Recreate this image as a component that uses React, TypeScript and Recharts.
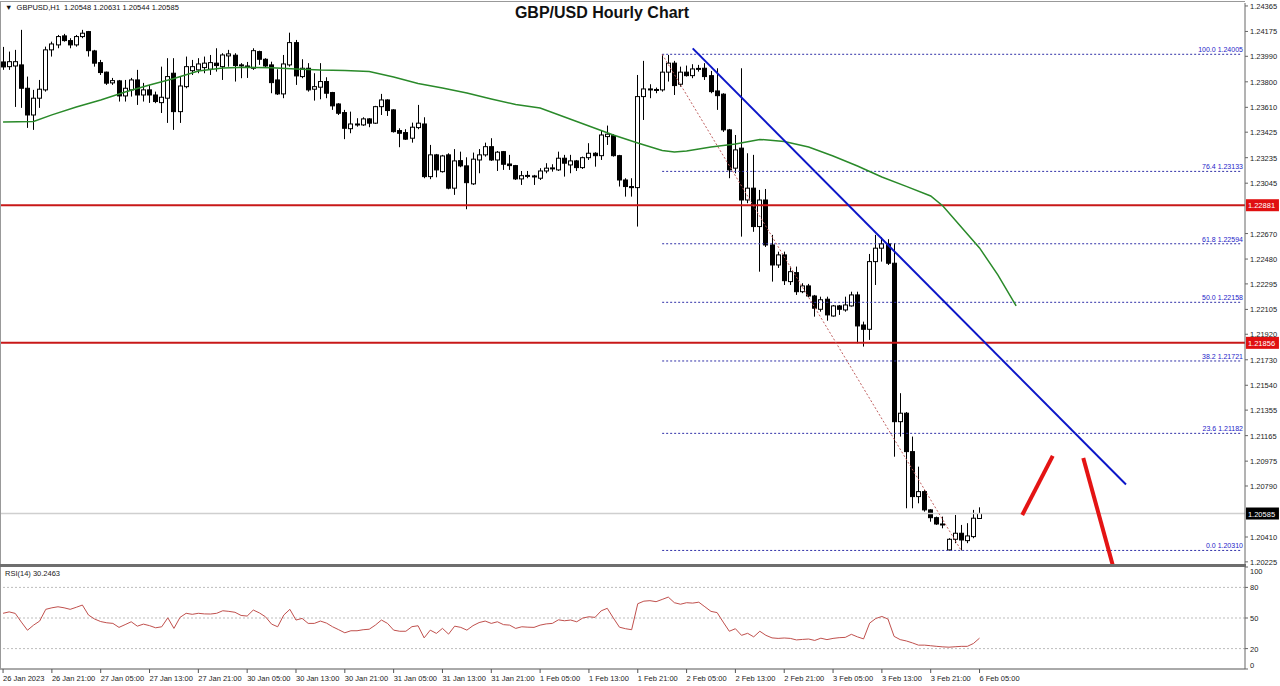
import React from 'react'
import { ComposedChart, Bar, Line, XAxis, YAxis, ReferenceLine, ReferenceDot } from 'recharts'

const W = 1280
const AXIS_W = 35
const SLOTS = 204 // hourly bars plus the empty space on the right
const FONT = '"Liberation Sans", Arial, sans-serif'

// GBPUSD H1, open / high / low / close, 26 Jan 13:00 .. 6 Feb 05:00
const ohlc = [
  [1.23948, 1.2406, 1.23889, 1.23911],
  [1.23913, 1.24025, 1.23889, 1.2395],
  [1.23918, 1.24038, 1.23613, 1.2395],
  [1.23926, 1.24187, 1.23606, 1.23752],
  [1.23752, 1.23839, 1.23457, 1.23553],
  [1.23553, 1.2374, 1.23442, 1.23678],
  [1.23678, 1.23814, 1.23606, 1.23745],
  [1.2374, 1.24062, 1.23727, 1.24038],
  [1.24038, 1.24099, 1.23988, 1.24082],
  [1.24075, 1.24149, 1.2405, 1.24137],
  [1.24142, 1.24157, 1.24099, 1.24107],
  [1.24107, 1.24125, 1.2405, 1.24075],
  [1.24075, 1.24149, 1.24062, 1.24137],
  [1.24137, 1.24187, 1.24125, 1.24162],
  [1.24174, 1.24179, 1.23988, 1.24032],
  [1.2403, 1.24038, 1.23913, 1.23939],
  [1.23943, 1.23963, 1.23851, 1.23869],
  [1.23872, 1.23876, 1.23777, 1.2379],
  [1.23792, 1.23829, 1.23777, 1.23809],
  [1.23807, 1.23814, 1.23653, 1.23695],
  [1.23695, 1.23814, 1.23653, 1.23752],
  [1.2374, 1.23829, 1.2369, 1.23814],
  [1.23814, 1.23889, 1.23628, 1.23702],
  [1.23702, 1.23792, 1.23653, 1.2374],
  [1.2374, 1.23777, 1.23643, 1.23702],
  [1.23702, 1.23727, 1.23641, 1.23653],
  [1.23645, 1.23913, 1.23568, 1.23685],
  [1.23678, 1.23976, 1.23494, 1.23839],
  [1.23864, 1.23976, 1.23442, 1.23578],
  [1.23578, 1.23839, 1.23494, 1.23769],
  [1.23764, 1.23988, 1.23752, 1.23913],
  [1.23883, 1.23963, 1.23851, 1.23913],
  [1.23889, 1.23976, 1.23864, 1.23933],
  [1.23906, 1.23988, 1.23864, 1.23939],
  [1.23894, 1.24, 1.23851, 1.23943],
  [1.23939, 1.2405, 1.23876, 1.23921],
  [1.23913, 1.24013, 1.23814, 1.24],
  [1.23993, 1.24038, 1.23913, 1.24008],
  [1.23998, 1.24013, 1.23802, 1.23921],
  [1.23926, 1.23939, 1.23827, 1.23922],
  [1.23911, 1.23948, 1.23829, 1.23918],
  [1.23901, 1.2405, 1.23889, 1.24032],
  [1.24025, 1.24032, 1.23926, 1.23968],
  [1.23968, 1.23976, 1.23909, 1.23918],
  [1.23926, 1.2395, 1.23715, 1.23794],
  [1.23814, 1.23894, 1.23702, 1.2371],
  [1.2371, 1.24, 1.23678, 1.23933],
  [1.23926, 1.24166, 1.23913, 1.24092],
  [1.24092, 1.24112, 1.23777, 1.23844],
  [1.23839, 1.23968, 1.23827, 1.23901],
  [1.23901, 1.23939, 1.23727, 1.2374],
  [1.23745, 1.23864, 1.2366, 1.23764],
  [1.2376, 1.23939, 1.2367, 1.23802],
  [1.23802, 1.23834, 1.23678, 1.23715],
  [1.2372, 1.23725, 1.23591, 1.23621],
  [1.23635, 1.23641, 1.23553, 1.23566],
  [1.23571, 1.23591, 1.23373, 1.23454],
  [1.23451, 1.23578, 1.23417, 1.23486],
  [1.23486, 1.23529, 1.23466, 1.23483],
  [1.23479, 1.23536, 1.23472, 1.23524],
  [1.23524, 1.23529, 1.23462, 1.23492],
  [1.23492, 1.23621, 1.23486, 1.23615],
  [1.23615, 1.2371, 1.23553, 1.23665],
  [1.23665, 1.2367, 1.23546, 1.23586],
  [1.23591, 1.23596, 1.23422, 1.23429],
  [1.23437, 1.23454, 1.23313, 1.23417],
  [1.23422, 1.23447, 1.23367, 1.23373],
  [1.2338, 1.23496, 1.23347, 1.23462],
  [1.23459, 1.23628, 1.23447, 1.23492],
  [1.23486, 1.23536, 1.23082, 1.23094],
  [1.23094, 1.2333, 1.23075, 1.23256],
  [1.23256, 1.23263, 1.23089, 1.23144],
  [1.23131, 1.23256, 1.23124, 1.23248],
  [1.23256, 1.23268, 1.23, 1.23008],
  [1.23008, 1.23299, 1.22958, 1.23211],
  [1.23213, 1.2328, 1.23164, 1.23174],
  [1.23174, 1.23238, 1.22851, 1.23049],
  [1.2304, 1.23273, 1.23032, 1.23224],
  [1.23218, 1.23299, 1.23119, 1.23256],
  [1.23256, 1.23347, 1.23243, 1.23317],
  [1.23317, 1.2338, 1.23211, 1.23218],
  [1.23218, 1.23285, 1.23136, 1.23276],
  [1.2328, 1.23285, 1.23144, 1.23186],
  [1.23188, 1.23256, 1.23144, 1.23176],
  [1.23176, 1.23181, 1.23069, 1.23077],
  [1.23077, 1.23136, 1.23032, 1.23101],
  [1.23101, 1.23136, 1.23082, 1.23103],
  [1.23092, 1.23107, 1.23032, 1.23099],
  [1.23082, 1.23157, 1.23069, 1.23136],
  [1.23136, 1.23194, 1.23119, 1.23157],
  [1.23157, 1.23186, 1.23131, 1.23159],
  [1.23144, 1.2328, 1.23136, 1.23231],
  [1.23231, 1.23256, 1.23094, 1.23194],
  [1.23181, 1.23256, 1.23119, 1.23211],
  [1.23211, 1.23218, 1.23136, 1.23161],
  [1.23161, 1.23243, 1.23151, 1.23235],
  [1.23235, 1.23343, 1.23218, 1.23268],
  [1.23268, 1.23276, 1.23168, 1.2325],
  [1.2325, 1.23434, 1.23218, 1.23404],
  [1.23392, 1.23474, 1.2333, 1.2341],
  [1.23399, 1.2341, 1.23243, 1.2325],
  [1.2325, 1.23256, 1.2302, 1.23069],
  [1.23069, 1.23082, 1.22945, 1.2302],
  [1.2302, 1.23082, 1.22945, 1.23012],
  [1.23012, 1.23851, 1.22722, 1.2369],
  [1.2369, 1.23956, 1.23516, 1.23747],
  [1.23747, 1.23782, 1.23678, 1.23743],
  [1.23743, 1.23757, 1.23715, 1.2374],
  [1.2374, 1.24005, 1.23727, 1.23872],
  [1.23872, 1.24, 1.23802, 1.23939],
  [1.23939, 1.23956, 1.23702, 1.23772],
  [1.23782, 1.23913, 1.23764, 1.23872],
  [1.23872, 1.23921, 1.23839, 1.23846],
  [1.23846, 1.23931, 1.23827, 1.23896],
  [1.23896, 1.23926, 1.23876, 1.239],
  [1.23901, 1.23939, 1.23814, 1.23839],
  [1.23846, 1.23881, 1.23715, 1.23727],
  [1.23732, 1.23901, 1.23591, 1.23697],
  [1.23708, 1.23715, 1.23427, 1.23442],
  [1.23442, 1.23449, 1.23082, 1.23144],
  [1.23157, 1.23404, 1.23119, 1.23293],
  [1.23306, 1.23901, 1.22647, 1.2292],
  [1.2292, 1.23268, 1.22896, 1.23008],
  [1.23008, 1.23256, 1.22683, 1.22722],
  [1.22722, 1.22995, 1.22386, 1.2292],
  [1.2292, 1.23002, 1.2257, 1.22585],
  [1.22585, 1.2266, 1.22312, 1.22436],
  [1.22436, 1.22535, 1.22414, 1.22511],
  [1.22511, 1.22535, 1.22287, 1.22319],
  [1.22312, 1.22424, 1.22287, 1.22386],
  [1.22379, 1.22424, 1.22213, 1.22237],
  [1.22237, 1.223, 1.22226, 1.2228],
  [1.2228, 1.22295, 1.22196, 1.22205],
  [1.22205, 1.22213, 1.22051, 1.22114],
  [1.22106, 1.222, 1.22088, 1.22177],
  [1.22181, 1.222, 1.22021, 1.22064],
  [1.22056, 1.22138, 1.22051, 1.22131],
  [1.22131, 1.22138, 1.22064, 1.22106],
  [1.22101, 1.222, 1.22088, 1.22138],
  [1.22131, 1.22237, 1.22126, 1.22213],
  [1.22213, 1.22237, 1.21853, 1.21982],
  [1.21989, 1.22014, 1.21828, 1.21957],
  [1.21957, 1.22518, 1.21878, 1.22461],
  [1.22461, 1.2266, 1.22287, 1.22561],
  [1.22561, 1.22643, 1.22461, 1.22593],
  [1.22593, 1.22628, 1.22436, 1.22449],
  [1.22449, 1.22598, 1.21008, 1.21269],
  [1.21269, 1.21481, 1.21158, 1.21332],
  [1.21332, 1.21341, 1.20624, 1.21046],
  [1.21046, 1.21158, 1.20624, 1.20711],
  [1.20711, 1.20934, 1.20661, 1.20748],
  [1.20748, 1.20761, 1.20599, 1.20612],
  [1.20612, 1.20617, 1.20524, 1.20554],
  [1.20554, 1.20562, 1.205, 1.20507],
  [1.20507, 1.20562, 1.20475, 1.205],
  [1.20314, 1.20401, 1.2031, 1.20393],
  [1.20393, 1.20574, 1.20364, 1.20438],
  [1.20438, 1.205, 1.2031, 1.20388],
  [1.20383, 1.20513, 1.20364, 1.20418],
  [1.20413, 1.20612, 1.20401, 1.2055],
  [1.20548, 1.20631, 1.20544, 1.20585],
]

// shifted moving average, read at [bar, price]
const maPoints = [
  [0, 1.23501], [5, 1.23505], [8, 1.23554], [12, 1.23613], [16, 1.23665], [20, 1.23724],
  [24, 1.23777], [28, 1.23825], [32, 1.23881], [36, 1.23903], [40, 1.23908], [44, 1.23905],
  [48, 1.23896], [52, 1.23888], [56, 1.23885], [60, 1.23877], [64, 1.23836], [68, 1.23788],
  [72, 1.23754], [76, 1.23717], [80, 1.23672], [84, 1.23631], [88, 1.23605], [92, 1.23538],
  [96, 1.23471], [100, 1.23404], [104, 1.23345], [108, 1.23289], [110, 1.23278], [112, 1.23285],
  [116, 1.23315], [120, 1.23337], [124, 1.23371], [128, 1.23356], [132, 1.23315], [136, 1.23248],
  [140, 1.23173], [144, 1.23091], [148, 1.23021], [152, 1.2295], [154, 1.22875], [156, 1.22771],
  [160, 1.22563], [163, 1.22362], [166, 1.22131],
]

const rsi14 = [
  54.6, 56, 54.5, 46, 38, 43, 47, 58.5, 60, 61,
  60, 58.5, 60.5, 62.7, 52.9, 49, 46.5, 45.3, 44.7, 40.8,
  43.5, 46.3, 42, 44, 42.5, 40.4, 41.4, 50.2, 39.8, 50.6,
  54.6, 53.6, 54.6, 54, 53.9, 54.6, 57.1, 56.5, 55.6, 52.5,
  51.9, 57.8, 55, 51.2, 44, 41.4, 52.9, 58.5, 48, 49.6,
  44.7, 44.7, 47, 45, 41.4, 38.5, 35.5, 37.5, 37.5, 38.5,
  39, 43, 48, 44.7, 38.1, 37, 37, 41.5, 42.4, 30.5,
  38.1, 34.9, 39.8, 34.2, 42, 40.8, 38.1, 42.5, 45.5, 47,
  44.7, 46.3, 43.5, 43, 39.8, 41.4, 41, 40.8, 43, 44.2,
  44.7, 48.2, 47.3, 48, 46.3, 50, 51.2, 50.6, 57, 59.5,
  50, 41, 39.5, 38.5, 64, 66.5, 67, 66, 68.2, 70.5,
  65, 63.5, 65, 64.6, 65.5, 61, 56.5, 55.3, 46, 37,
  39.5, 33, 35, 31.5, 37, 33, 30.5, 30, 30.4, 30,
  28.5, 29, 29.4, 28, 30.2, 28.8, 30, 30.7, 31, 34,
  31.5, 29.5, 45, 49.5, 51.5, 49, 32, 28.8, 27.5, 25.6,
  23.4, 23.4, 22.8, 22.2, 21.7, 21.4, 21.8, 22.2, 22.2, 25,
  30.25,
]

const timeLabels = [
  '26 Jan 2023', '26 Jan 21:00', '27 Jan 05:00', '27 Jan 13:00', '27 Jan 21:00', '30 Jan 05:00',
  '30 Jan 13:00', '30 Jan 21:00', '31 Jan 05:00', '31 Jan 13:00', '31 Jan 21:00', '1 Feb 05:00',
  '1 Feb 13:00', '1 Feb 21:00', '2 Feb 05:00', '2 Feb 13:00', '2 Feb 21:00', '3 Feb 05:00',
  '3 Feb 13:00', '3 Feb 21:00', '6 Feb 05:00',
]
const timeTicks = timeLabels.map((_, k) => k * 8)

const priceTicks = [
  1.24365, 1.24175, 1.2399, 1.238, 1.2361, 1.23425, 1.23235, 1.23045, 1.2267, 1.2248, 1.22295,
  1.22105, 1.2192, 1.2173, 1.2154, 1.21355, 1.21165, 1.20975, 1.2079, 1.2041, 1.20225,
]
const priceDomain = [1.20209, 1.24387]

const fibLevels = [
  [100.0, 1.24005], [76.4, 1.23133], [61.8, 1.22594], [50.0, 1.22158],
  [38.2, 1.21721], [23.6, 1.21182], [0.0, 1.2031],
]
const fibStart = 108
const fibSwing = [[108, 1.24005], [157, 1.2031]]
const keyLevels = [1.22881, 1.21856]
const lastPrice = 1.20585
const trendLine = [[113, 1.24049], [184, 1.20801]]
const arrowUp = [[167, 1.20574], [172, 1.21014]]
const arrowDown = [[177, 1.20999], [182, 1.20172]]
const rsiLevels = [80, 50, 20]

const rows = Array.from({ length: SLOTS }, (_, i) => {
  const row: any = { i }
  const c = ohlc[i]
  if (c) {
    row.o = c[0]
    row.h = c[1]
    row.l = c[2]
    row.c = c[3]
    row.range = [c[2], c[1]]
    row.rsi = rsi14[i]
  }
  return row
})
maPoints.forEach(([i, v]) => {
  rows[i].ma = v
})

const seg = (p: number[][]) => p.map(([x, y]) => ({ x, y }))

function Candle(props: any) {
  const { x, y, width, height, payload } = props
  if (!payload || payload.o == null) return null
  const top = Math.min(y, y + height)
  const bot = Math.max(y, y + height)
  const span = payload.h - payload.l || 1
  const toY = (p: number) => top + ((payload.h - p) / span) * (bot - top)
  const cx = Math.floor(x + width / 2) + 0.5
  const yo = toY(payload.o)
  const yc = toY(payload.c)
  const bull = payload.c >= payload.o
  const bTop = Math.min(yo, yc)
  const bH = Math.max(Math.abs(yc - yo), 1)
  return (
    <g>
      <line x1={cx} x2={cx} y1={top} y2={bot} stroke="#000" strokeWidth={1} />
      <rect x={cx - 2} y={bTop} width={4} height={bH} fill={bull ? '#fff' : '#000'} stroke="#000" strokeWidth={1} />
    </g>
  )
}

const PriceTick = (props: any) => {
  const { x, y, payload } = props
  return (
    <text x={x} y={y} dy={3} fontSize={7.5} fontFamily={FONT} fill="#222" textAnchor="start">
      {Number(payload.value).toFixed(5)}
    </text>
  )
}

const RsiTick = (props: any) => {
  const { x, y, payload } = props
  const shift = payload.value === 100 ? 4 : payload.value === 0 ? -4 : 0
  return (
    <text x={x} y={y + shift} dy={3} fontSize={7.5} fontFamily={FONT} fill="#222" textAnchor="start">
      {payload.value}
    </text>
  )
}

const TimeTick = (props: any) => {
  const { x, y, payload } = props
  return (
    <text x={x} y={y} dy={6} fontSize={7.5} fontFamily={FONT} fill="#222" textAnchor="start">
      {timeLabels[payload.value / 8]}
    </text>
  )
}

const fibLabel = (text: string) => (p: any) => (
  <text x={p.cx + 1} y={p.cy - 2} fontSize={7} fontFamily={FONT} fill="#2424c8" textAnchor="end">
    {text}
  </text>
)

const priceBox = (value: number, bg: string) => (p: any) => (
  <g>
    <rect x={p.cx + 4} y={p.cy - 6} width={33} height={12} fill={bg} />
    <text x={p.cx + 6} y={p.cy + 3} fontSize={7.5} fontFamily={FONT} fill="#fff">
      {value.toFixed(5)}
    </text>
  </g>
)

export default function App() {
  return (
    <div style={{ position: 'relative', width: W, height: 686, overflow: 'hidden', background: '#fff', fontFamily: FONT }}>
      <style>{'body{margin:0}'}</style>

      <div style={{ position: 'absolute', left: 0, top: 0 }}>
        <ComposedChart width={W} height={566} data={rows} margin={{ top: 3, right: 0, bottom: 2, left: 0 }}>
          <XAxis dataKey="i" type="category" scale="band" hide />
          <YAxis
            orientation="right"
            type="number"
            width={AXIS_W}
            domain={priceDomain}
            allowDataOverflow
            ticks={priceTicks}
            interval={0}
            tick={<PriceTick />}
            tickSize={3}
            tickMargin={2}
            axisLine={{ stroke: '#666' }}
            tickLine={{ stroke: '#666' }}
          />
          {keyLevels.map((v) => (
            <ReferenceLine key={v} y={v} stroke="#c81818" strokeWidth={2} />
          ))}
          <ReferenceLine y={lastPrice} stroke="#cfcfcf" strokeWidth={1.5} />
          {fibLevels.map(([pct, v]) => (
            <ReferenceLine
              key={pct}
              segment={[{ x: fibStart, y: v }, { x: SLOTS - 1, y: v }]}
              stroke="#3030a8"
              strokeDasharray="2 2"
              ifOverflow="visible"
            />
          ))}
          <ReferenceLine segment={seg(fibSwing)} stroke="#c06060" strokeDasharray="2 2" ifOverflow="visible" />
          <Bar dataKey="range" shape={<Candle />} isAnimationActive={false} />
          <Line dataKey="ma" stroke="#2a8a2a" strokeWidth={1.5} dot={false} connectNulls isAnimationActive={false} />
          <ReferenceLine segment={seg(trendLine)} stroke="#0c16c8" strokeWidth={2} ifOverflow="visible" />
          <ReferenceLine segment={seg(arrowUp)} stroke="#e41414" strokeWidth={4} ifOverflow="visible" />
          <ReferenceLine segment={seg(arrowDown)} stroke="#e41414" strokeWidth={4} ifOverflow="visible" />
          {fibLevels.map(([pct, v]) => (
            <ReferenceDot
              key={'l' + pct}
              x={SLOTS - 1}
              y={v}
              r={0}
              ifOverflow="visible"
              shape={fibLabel(`${pct.toFixed(1)} ${v.toFixed(5)}`)}
            />
          ))}
          {keyLevels.map((v) => (
            <ReferenceDot key={'b' + v} x={SLOTS - 1} y={v} r={0} ifOverflow="visible" shape={priceBox(v, '#e01010')} />
          ))}
          <ReferenceDot x={SLOTS - 1} y={lastPrice} r={0} ifOverflow="visible" shape={priceBox(lastPrice, '#000')} />
        </ComposedChart>
      </div>

      <div style={{ position: 'absolute', left: 0, top: 566 }}>
        <ComposedChart width={W} height={120} data={rows} margin={{ top: 1, right: 0, bottom: 0, left: 0 }}>
          <XAxis
            dataKey="i"
            type="category"
            scale="band"
            ticks={timeTicks}
            interval={0}
            height={17}
            tick={<TimeTick />}
            tickSize={4}
            tickMargin={2}
            axisLine={{ stroke: '#555' }}
            tickLine={{ stroke: '#555' }}
          />
          <YAxis
            orientation="right"
            type="number"
            width={AXIS_W}
            domain={[0, 100]}
            ticks={[0, 20, 50, 80, 100]}
            interval={0}
            tick={<RsiTick />}
            tickSize={3}
            tickMargin={2}
            axisLine={{ stroke: '#666' }}
            tickLine={{ stroke: '#666' }}
          />
          {rsiLevels.map((v) => (
            <ReferenceLine key={v} y={v} stroke="#bdbdbd" strokeDasharray="2 2" />
          ))}
          <Bar dataKey="none" isAnimationActive={false} />
          <Line dataKey="rsi" stroke="#c0504d" strokeWidth={1} dot={false} isAnimationActive={false} />
        </ComposedChart>
      </div>

      {/* frame */}
      <div style={{ position: 'absolute', left: 0, top: 1, width: 1245, height: 1, background: '#999' }} />
      <div style={{ position: 'absolute', left: 0, top: 1, width: 1, height: 668, background: '#999' }} />
      <div style={{ position: 'absolute', left: 0, top: 564, width: 1246, height: 3, background: '#6e6e6e' }} />

      <div style={{ position: 'absolute', left: 5, top: 3, fontSize: 7.5, lineHeight: '10px', color: '#111', whiteSpace: 'pre' }}>
        {'▼  GBPUSD,H1  1.20548 1.20631 1.20544 1.20585'}
      </div>
      <div
        style={{
          position: 'absolute',
          left: 602,
          top: 3,
          transform: 'translateX(-50%)',
          fontSize: 16,
          fontWeight: 700,
          lineHeight: '20px',
          color: '#111',
          whiteSpace: 'nowrap',
        }}
      >
        GBP/USD Hourly Chart
      </div>
      <div style={{ position: 'absolute', left: 5, top: 569, fontSize: 7.5, lineHeight: '10px', color: '#222' }}>
        RSI(14) 30.2463
      </div>
    </div>
  )
}
